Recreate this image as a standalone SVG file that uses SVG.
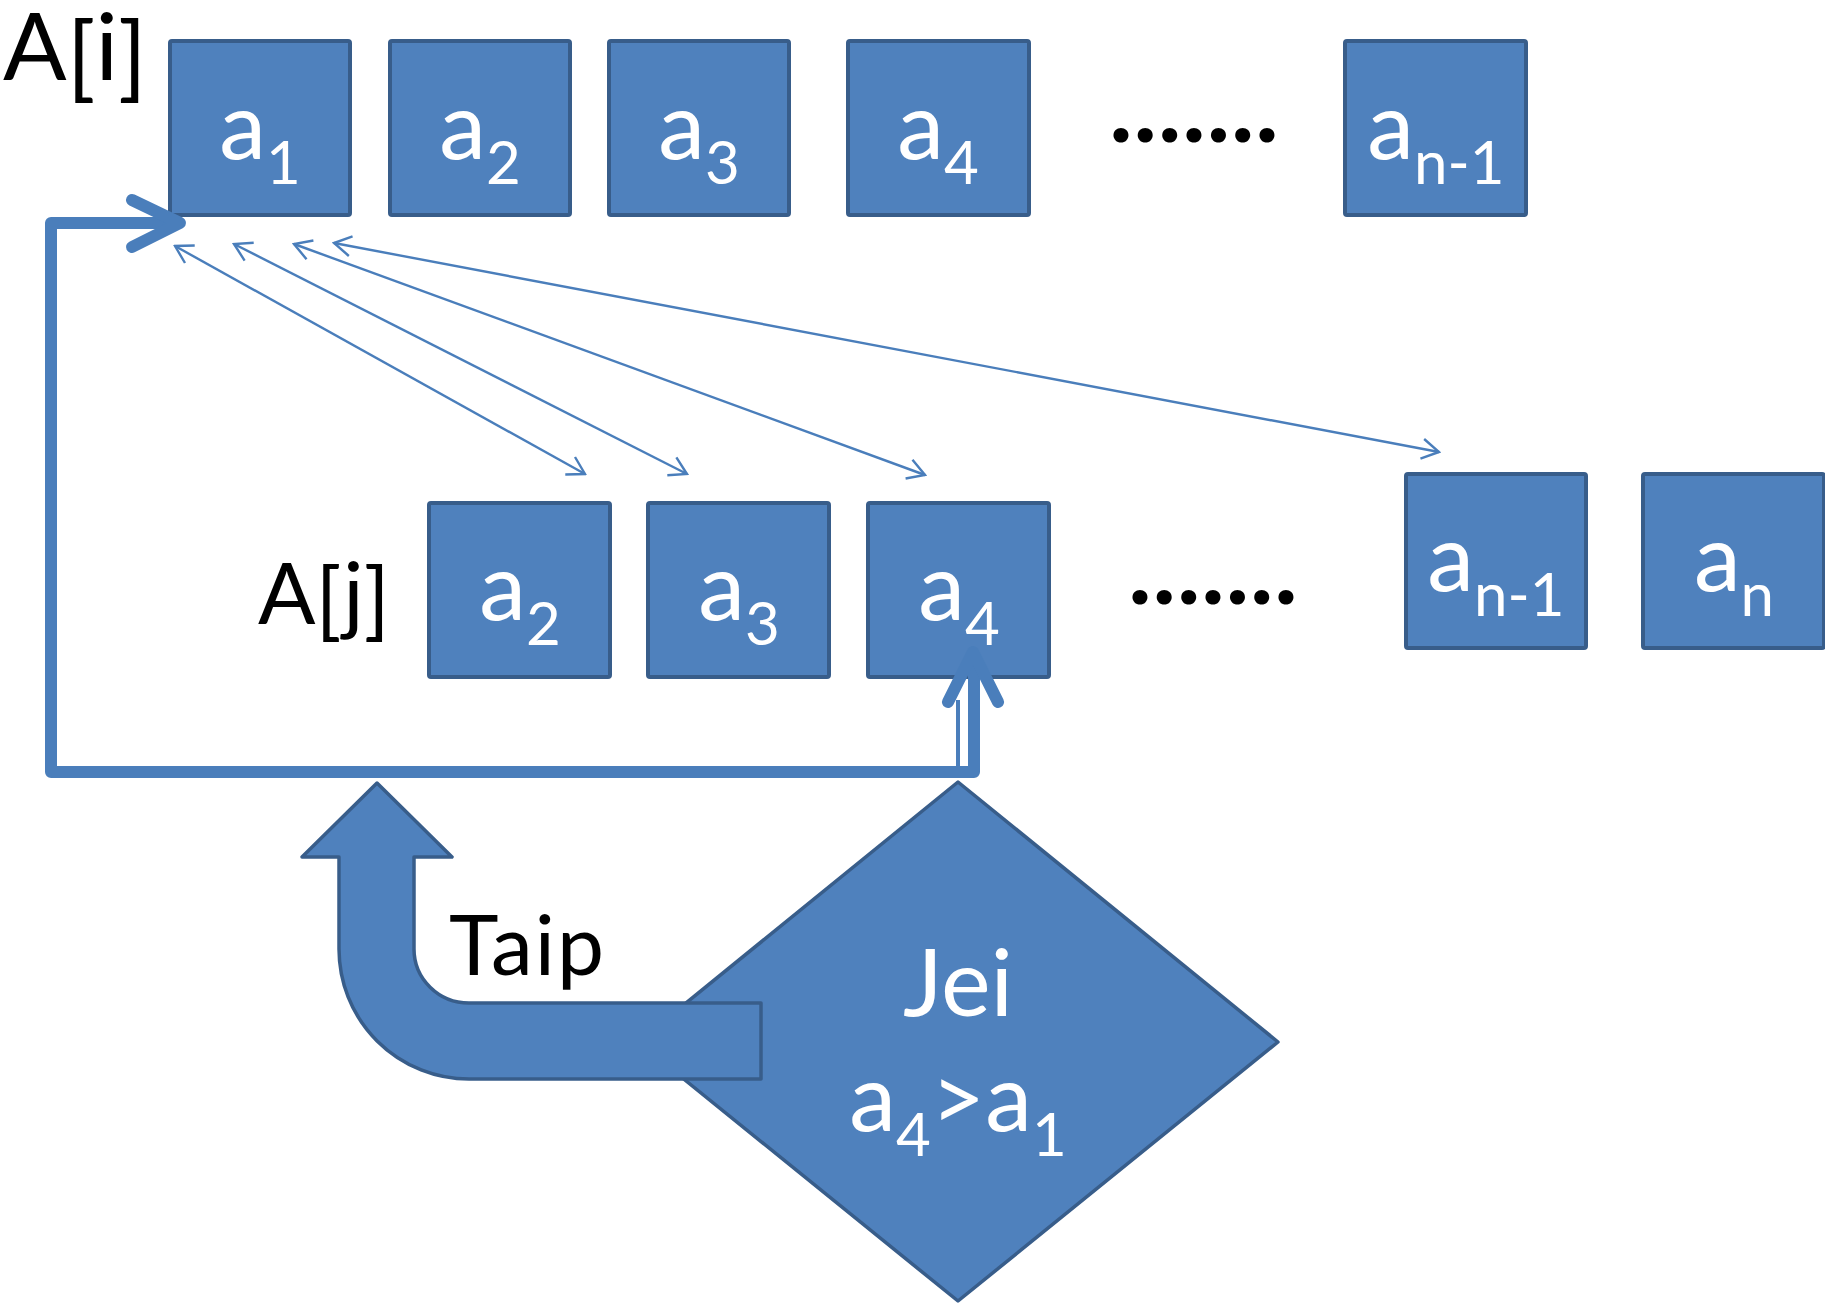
<svg xmlns="http://www.w3.org/2000/svg" width="1825" height="1312" viewBox="0 0 1825 1312">
  <defs>
    <style>
      .box { fill: #4F81BD; stroke: #385D8A; stroke-width: 4; }
      .lbl { font-family: Lato, "Open Sans", "Liberation Sans", sans-serif; fill: #FFFFFF; font-size: 94px; text-anchor: middle; }
      .sub { font-size: 60px; }
      .blk { font-family: Lato, "Open Sans", "Liberation Sans", sans-serif; fill: #000000; }
      .dots { font-family: Lato, "Open Sans", "Liberation Sans", sans-serif; font-weight: 900; font-size: 92px; fill: #000000; }
      .thin { fill: none; stroke: #4A7EBB; stroke-width: 2.4; }
      .thick { fill: none; stroke: #4A7EBB; stroke-width: 12; stroke-linejoin: round; stroke-linecap: round; }
      .shape { fill: #4F81BD; stroke: #385D8A; stroke-width: 3.5; stroke-linejoin: round; }
    </style>
    <marker id="open" viewBox="-20 -12 22 24" markerWidth="22" markerHeight="24" refX="0" refY="0" orient="auto-start-reverse" markerUnits="userSpaceOnUse">
      <path d="M-17,-10 L0,0 L-17,10" fill="none" stroke="#4A7EBB" stroke-width="2.4"/>
    </marker>
  </defs>

  <!-- row labels -->
  <text class="blk" x="3" y="80" font-size="94">A<tspan dy="10">[</tspan><tspan dy="-10">i</tspan><tspan dy="10">]</tspan></text>
  <text class="blk" x="258" y="624" font-size="85">A<tspan dy="6">[</tspan><tspan dy="-6">j</tspan><tspan dy="6">]</tspan></text>

  <!-- top row: A[i] -->
  <g id="i-a1"><rect class="box" x="170" y="41" width="180" height="174" rx="2"/><text class="lbl" x="260" y="159">a<tspan class="sub" dy="25">1</tspan></text></g>
  <g id="i-a2"><rect class="box" x="390" y="41" width="180" height="174" rx="2"/><text class="lbl" x="480" y="159">a<tspan class="sub" dy="25">2</tspan></text></g>
  <g id="i-a3"><rect class="box" x="609" y="41" width="180" height="174" rx="2"/><text class="lbl" x="699" y="159">a<tspan class="sub" dy="25">3</tspan></text></g>
  <g id="i-a4"><rect class="box" x="848" y="41" width="181" height="174" rx="2"/><text class="lbl" x="938" y="159">a<tspan class="sub" dy="25">4</tspan></text></g>
  <text class="dots" x="1110" y="142" textLength="168" lengthAdjust="spacing">.......</text>
  <g id="i-an1"><rect class="box" x="1345" y="41" width="181" height="174" rx="2"/><text class="lbl" x="1436" y="159">a<tspan class="sub" dy="25">n-1</tspan></text></g>

  <!-- bottom row: A[j] -->
  <g id="j-a2"><rect class="box" x="429" y="503" width="181" height="174" rx="2"/><text class="lbl" x="520" y="620">a<tspan class="sub" dy="25">2</tspan></text></g>
  <g id="j-a3"><rect class="box" x="648" y="503" width="181" height="174" rx="2"/><text class="lbl" x="739" y="620">a<tspan class="sub" dy="25">3</tspan></text></g>
  <g id="j-a4"><rect class="box" x="868" y="503" width="181" height="174" rx="2"/><text class="lbl" x="959" y="620">a<tspan class="sub" dy="25">4</tspan></text></g>
  <text class="dots" x="1129" y="604" textLength="168" lengthAdjust="spacing">.......</text>
  <g id="j-an1"><rect class="box" x="1406" y="474" width="180" height="174" rx="2"/><text class="lbl" x="1496" y="591">a<tspan class="sub" dy="25">n-1</tspan></text></g>
  <g id="j-an"><rect class="box" x="1643" y="474" width="181" height="174" rx="2"/><text class="lbl" x="1734" y="591">a<tspan class="sub" dy="25">n</tspan></text></g>

  <!-- decision: a4 > a1 -->
  <g id="decision">
    <polygon class="shape" points="958,782 1278,1042 958,1301 638,1042"/>
    <text class="lbl" x="958" y="1016" font-size="84">Jei</text>
    <text class="lbl" x="958" y="1131" font-size="91">a<tspan class="sub" dy="25">4</tspan><tspan dy="-25">&gt;a</tspan><tspan class="sub" dy="25">1</tspan></text>
  </g>

  <!-- "yes" branch: U-turn block arrow -->
  <g id="yes-arrow">
    <path class="shape" d="M377,783 L452,857 L414,857 L414,949 A55,54 0 0 0 469,1003 L761,1003 L761,1079 L469,1079 A130,130 0 0 1 339,949 L339,857 L302,857 Z"/>
    <text class="blk" x="449" y="975" font-size="84" letter-spacing="2">Taip</text>
  </g>

  <!-- connectors -->
  <g id="connectors">
    <line class="thin" x1="175" y1="246" x2="585" y2="474" marker-start="url(#open)" marker-end="url(#open)"/>
    <line class="thin" x1="234" y1="244" x2="687" y2="474" marker-start="url(#open)" marker-end="url(#open)"/>
    <line class="thin" x1="294" y1="244" x2="925" y2="475" marker-start="url(#open)" marker-end="url(#open)"/>
    <line class="thin" x1="334" y1="243" x2="1439" y2="452" marker-start="url(#open)" marker-end="url(#open)"/>

    <!-- loop back from j to the next i -->
    <path class="thick" d="M974,662 L974,772 L51,772 L51,223 L176,223"/>
    <polyline class="thick" points="132,200 180,223 132,247" stroke-linejoin="miter"/>
    <line x1="958" y1="772" x2="958" y2="700" stroke="#4A7EBB" stroke-width="4"/>
    <polyline class="thick" points="948,702 973,652 998,702" stroke-linejoin="miter"/>
  </g>
</svg>
